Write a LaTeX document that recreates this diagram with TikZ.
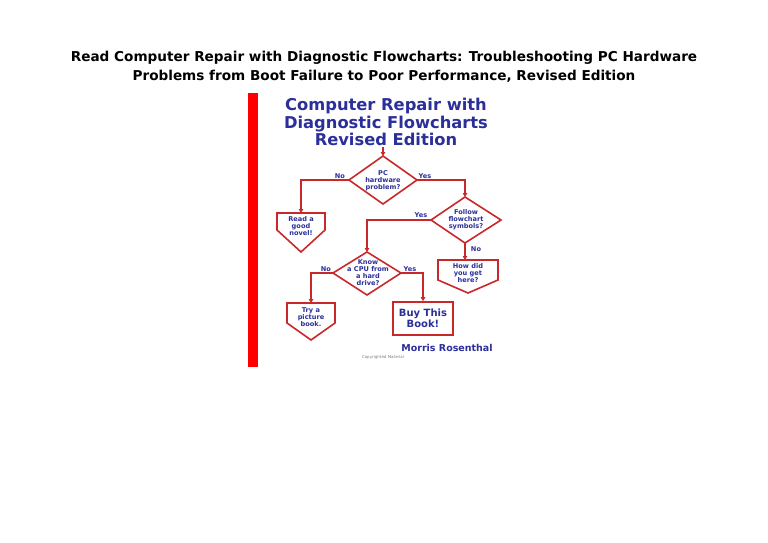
\documentclass[tikz,border=0pt]{standalone}
\usepackage{fontspec}
\setmainfont{DejaVu Sans}
\usetikzlibrary{arrows.meta}
\definecolor{fred}{HTML}{C8282A}
\definecolor{fblue}{HTML}{2B2F9A}
\begin{document}
\begin{tikzpicture}[x=1pt,y=-1pt,
  ln/.style={fred,line width=1.6pt,line join=miter},
  arr/.style={ln,-{Triangle[length=4pt,width=4.5pt]}},
  ft/.style={font=\bfseries\fontsize{6.6}{7}\selectfont,text=fblue,align=center,inner sep=0pt},
  lab/.style={font=\bfseries\fontsize{6.6}{6.6}\selectfont,text=fblue}]
\useasboundingbox (0,0) rectangle (768,543);
\fill[white] (0,0) rectangle (768,543);
\node[font=\bfseries\fontsize{13.6}{18.5}\selectfont,align=center] (title) at (384,67) {Read Computer Repair with Diagnostic Flowcharts: Troubleshooting PC Hardware\\Problems from Boot Failure to Poor Performance, Revised Edition};
\fill[red] (248,93) rectangle (258,367);
\node[font=\bfseries\fontsize{16.3}{17.5}\selectfont,text=fblue,align=center] (ctitle) at (386,122) {Computer Repair with\\Diagnostic Flowcharts\\Revised Edition};
% diamond 1
\coordinate (d1n) at (383,156); \coordinate (d1s) at (383,204);
\coordinate (d1w) at (349,180); \coordinate (d1e) at (417,180);
\draw[ln] (d1n) -- (d1e) -- (d1s) -- (d1w) -- cycle;
\node[ft] (t1d) at (383,181) {PC\\hardware\\problem?};
% diamond 2
\coordinate (d2n) at (465,197); \coordinate (d2s) at (465,243);
\coordinate (d2w) at (431,220); \coordinate (d2e) at (501,220);
\draw[ln] (d2n) -- (d2e) -- (d2s) -- (d2w) -- cycle;
\node[ft] (t2d) at (466,220) {Follow\\flowchart\\symbols?};
% diamond 3
\coordinate (d3n) at (367,252); \coordinate (d3s) at (367,295);
\coordinate (d3w) at (333,273); \coordinate (d3e) at (401,273);
\draw[ln] (d3n) -- (d3e) -- (d3s) -- (d3w) -- cycle;
\node[ft] (t3d) at (368,273) {Know\\a CPU from\\a hard\\drive?};
\coordinate (top1) at (383,147);
\draw[arr] (top1) -- (d1n);
% box 1
\draw[ln] (277,213) -- (325,213) -- (325,230) -- (301,252) -- (277,230) -- cycle;
\coordinate (b1) at (301,213);
\node[ft] (t1) at (301,226) {Read a\\good\\novel!};
% box 4
\draw[ln] (438,260) -- (498,260) -- (498,280) -- (468,293) -- (438,280) -- cycle;
\coordinate (b4) at (465,260);
\node[ft] (t4) at (468,273) {How did\\you get\\here?};
% box 2
\draw[ln] (287,303) -- (335,303) -- (335,323) -- (311,340) -- (287,323) -- cycle;
\coordinate (b2) at (311,303);
\node[ft] (t2) at (311,317) {Try a\\picture\\book.};
% box 3
\node[draw=fred,line width=1.6pt,minimum width=60pt,minimum height=33pt,font=\bfseries\fontsize{10}{11.5}\selectfont,text=fblue,align=center] (b3) at (423,318.5) {Buy This\\Book!};
% connectors
\draw[arr] (d1w) -| (b1);
\draw[arr] (d1e) -| (d2n);
\draw[arr] (d2w) -| (d3n);
\draw[arr] (d2s) -- (b4);
\draw[arr] (d3w) -| (b2);
\draw[arr] (d3e) -| (b3.north);
\node[lab] (l1) at (340,176) {No};
\node[lab] (l2) at (425,176) {Yes};
\node[lab] (l3) at (421,215) {Yes};
\node[lab] (l4) at (476,249) {No};
\node[lab] (l5) at (326,269) {No};
\node[lab] (l6) at (410,269) {Yes};
\node[font=\bfseries\fontsize{9.5}{9.5}\selectfont,text=fblue] (auth) at (447,348) {Morris Rosenthal};
\node[font=\fontsize{4}{4}\selectfont,text=gray] (copy) at (383,357) {Copyrighted Material};
\end{tikzpicture}
\end{document}
